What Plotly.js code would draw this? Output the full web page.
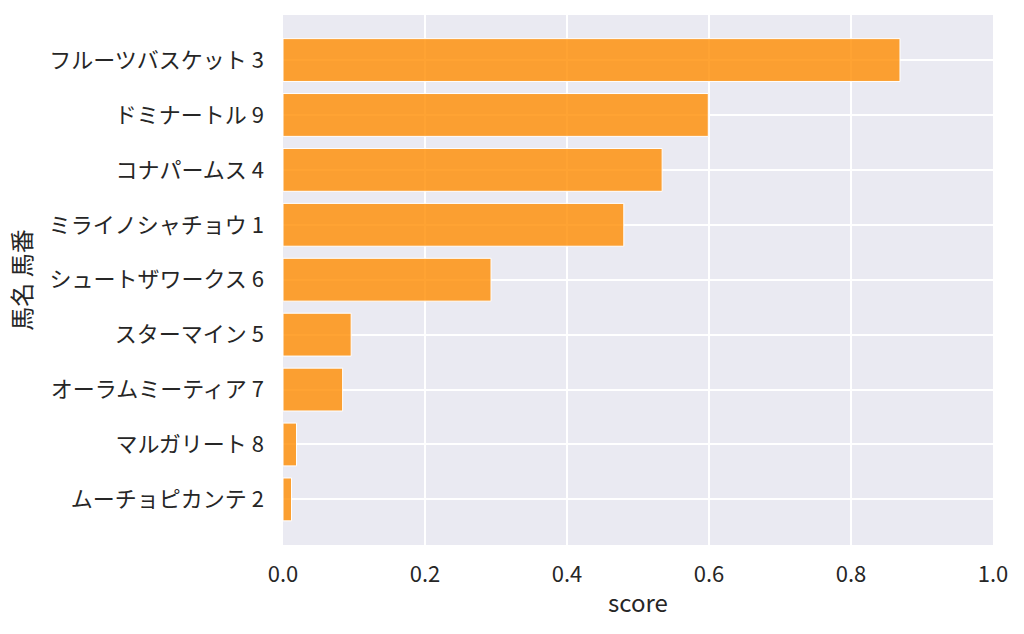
<!DOCTYPE html>
<html>
<head>
<meta charset="utf-8">
<script src="https://cdn.plot.ly/plotly-3.0.1.min.js"></script>
<style>
  html, body { margin: 0; padding: 0; background: #fff; }
  #chart { width: 1024px; height: 634px; }
</style>
</head>
<body>
<div id="chart"></div>
<script>
/* values */
const horses = [
  "フルーツバスケット 3",
  "ドミナートル 9",
  "コナパームス 4",
  "ミライノシャチョウ 1",
  "シュートザワークス 6",
  "スターマイン 5",
  "オーラムミーティア 7",
  "マルガリート 8",
  "ムーチョピカンテ 2",
];
const scores = [0.869, 0.599, 0.534, 0.480, 0.293, 0.096, 0.084, 0.019, 0.012];
const xTicks = [0, 0.2, 0.4, 0.6, 0.8, 1.0];
const xTickText = ["0.0", "0.2", "0.4", "0.6", "0.8", "1.0"];

const font = "'Noto Sans CJK JP', 'Noto Sans', sans-serif";

const data = [
  {
    type: "bar",
    orientation: "h",
    x: scores,
    y: horses,
    width: 0.78,
    marker: {
      color: "rgba(255,140,0,0.8)",
      line: { color: "#ffffff", width: 1 },
    },
    hoverinfo: "x+y",
  },
];

const layout = {
  width: 1024,
  height: 634,
  margin: { l: 283, r: 31, t: 15, b: 89 },
  paper_bgcolor: "#ffffff",
  plot_bgcolor: "#eaeaf2",
  font: { family: font, size: 22, color: "#262626" },
  showlegend: false,
  xaxis: {
    range: [0, 1],
    tickvals: xTicks,
    ticktext: xTickText,
    showgrid: true,
    gridcolor: "#ffffff",
    gridwidth: 1.5,
    zeroline: false,
    showline: false,
    ticks: "",
    ticklabelstandoff: 14,
    title: { text: "score", font: { size: 24 }, standoff: 8 },
  },
  yaxis: {
    type: "category",
    categoryorder: "array",
    categoryarray: horses,
    range: [8.83, -0.82],
    showgrid: true,
    gridcolor: "#ffffff",
    gridwidth: 1.5,
    zeroline: false,
    showline: false,
    ticks: "",
    ticklabelstandoff: 18,
    title: { text: "馬名 馬番", font: { size: 24 }, standoff: 10 },
  },
};

Plotly.newPlot("chart", data, layout, { displayModeBar: false });
</script>
</body>
</html>
